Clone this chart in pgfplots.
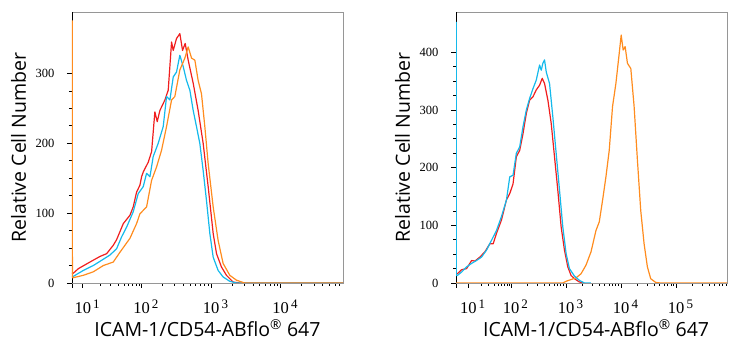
\documentclass[border=0pt]{standalone}
\usepackage{pgfplots}
\pgfplotsset{compat=1.18}
\usepackage{fontspec}
\setmainfont{Open Sans}
\newfontfamily\tickfont{Liberation Serif}
\definecolor{cred}{RGB}{240,30,30}
\definecolor{ccyan}{RGB}{20,185,235}
\definecolor{corange}{RGB}{255,140,30}
\definecolor{frame}{RGB}{150,150,150}
\pgfplotsset{
  flowaxis/.style={
    scale only axis, width=271pt, height=271pt,
    axis line style={frame, line width=0.7pt},
    tick align=outside, tick style={black, line width=0.7pt},
    major tick length=5pt, minor tick length=3pt,
    xtick pos=bottom, ytick pos=left,
    ymin=0, minor y tick num=3,
    /pgf/number format/assume math mode=true,
    yticklabel style={font=\tickfont\fontsize{12.5}{12.5}\selectfont, xshift=-9pt},
    xticklabel style={font=\tickfont\fontsize{16.5}{16.5}\selectfont, yshift=-8pt},
    label style={font=\fontsize{19.5}{19.5}\selectfont},
    ylabel style={at={(axis description cs:-0.197,0.5)}, anchor=center, rotate=0},
    xlabel style={at={(axis description cs:0.5,-0.199)}, anchor=base},
    ylabel={Relative Cell Number},
    xlabel={ICAM-1/CD54-ABflo\textsuperscript{®} 647},
    every axis plot/.append style={line width=1.2pt, line join=round, no marks},
  }
}
\newcommand{\dec}[1]{10\rlap{\raisebox{0.75ex}{\fontsize{13}{13}\selectfont\,#1}}}
\begin{document}
\begin{tikzpicture}[x=1pt,y=1pt]
\useasboundingbox (0,0) rectangle (740,350);
% ---------------- left panel ----------------
\begin{axis}[flowaxis, at={(72pt,67pt)}, anchor=south west,
  xmin=1.0, xmax=4.895, ymax=388,
  ytick={0,100,200,300},
  xtick={1.0,1.155,2,3,4},
  xticklabels={{},\dec{1},\dec{2},\dec{3},\dec{4}},
  minor xtick={1.409,1.558,1.664,1.746,1.812,1.869,1.918,1.961,
    2.301,2.477,2.602,2.699,2.778,2.845,2.903,2.954,
    3.301,3.477,3.602,3.699,3.778,3.845,3.903,3.954,
    4.301,4.477,4.602,4.699,4.778,4.845},
]
\draw[black, line width=0.8pt] (rel axis cs:0,-0.025) -- (rel axis cs:0,1);
\draw[black, line width=0.8pt] (rel axis cs:-0.012,0) -- (rel axis cs:1,0);
\addplot[cred] coordinates {
(1.000,14)(1.019,14)(1.091,20.5)(1.258,30)(1.402,38)(1.498,42)(1.593,54)(1.641,62)
(1.737,85)(1.833,97)(1.880,109)(1.928,130)(1.976,140)(2.000,152)(2.024,159)(2.096,173)
(2.144,188)(2.191,245)(2.225,231)(2.263,247)(2.335,262)(2.383,276)(2.431,345)(2.455,333)
(2.502,350)(2.550,357)(2.589,333)(2.627,343)(2.670,319)(2.742,286)(2.813,247)(2.885,200)
(2.957,138)(3.029,71)(3.077,42)(3.148,23)(3.220,11)(3.316,1.4)(3.411,0)(4.895,0)};
\addplot[ccyan] coordinates {
(1.000,9.5)(1.019,9.5)(1.163,18)(1.306,25)(1.402,31)(1.545,40)(1.641,49)(1.713,66)
(1.785,80)(1.880,102)(1.952,128)(2.024,138)(2.072,157)(2.120,152)(2.167,181)(2.239,200)
(2.311,224)(2.359,267)(2.407,262)(2.455,295)(2.502,302)(2.550,326)(2.598,310)(2.646,290)
(2.694,276)(2.742,247)(2.789,224)(2.837,200)(2.885,161)(2.933,118)(2.981,71)(3.029,37)
(3.100,18)(3.172,8.6)(3.268,2.4)(3.364,0)(4.895,0)};
\addplot[corange] coordinates {
(1.003,376)(1.006,7.6)(1.019,7.6)(1.163,11)(1.306,16)(1.450,25)(1.593,30)(1.689,44)
(1.833,64)(1.928,85)(1.976,99)(2.072,109)(2.144,147)(2.215,166)(2.287,190)(2.359,224)
(2.431,262)(2.478,267)(2.550,305)(2.622,322)(2.670,338)(2.718,322)(2.766,319)(2.813,290)
(2.861,271)(2.909,224)(2.957,171)(3.029,109)(3.100,61)(3.172,28)(3.268,11)(3.364,4)
(3.483,0)(4.895,0)};
\end{axis}
% ---------------- right panel ----------------
\begin{axis}[flowaxis, at={(456pt,67pt)}, anchor=south west,
  xmin=1.0, xmax=5.922, ymax=470,
  ytick={0,100,200,300,400},
  xtick={1.0,1.223,2,3,4,5},
  xticklabels={{},\dec{1},\dec{2},\dec{3},\dec{4},\dec{5}},
  minor xtick={1.457,1.594,1.691,1.766,1.828,1.880,1.925,1.964,
    2.301,2.477,2.602,2.699,2.778,2.845,2.903,2.954,
    3.301,3.477,3.602,3.699,3.778,3.845,3.903,3.954,
    4.301,4.477,4.602,4.699,4.778,4.845,4.903,4.954,
    5.301,5.477,5.602,5.699,5.778,5.845,5.903},
  xlabel style={at={(axis description cs:0.517,-0.199)}},
]
\draw[black, line width=0.8pt] (rel axis cs:0,-0.025) -- (rel axis cs:0,1);
\draw[black, line width=0.8pt] (rel axis cs:-0.012,0) -- (rel axis cs:1,0);
\addplot[cred] coordinates {
(1.000,16)(1.024,16)(1.102,23)(1.193,25)(1.283,39)(1.343,38)(1.434,45)(1.524,54)
(1.614,68)(1.675,68)(1.735,86)(1.825,109)(1.916,144)(1.976,155)(2.036,172)(2.096,219)
(2.157,230)(2.217,259)(2.277,294)(2.337,317)(2.398,323)(2.458,335)(2.518,343)(2.566,355)
(2.608,346)(2.669,317)(2.729,277)(2.789,219)(2.849,161)(2.910,97)(2.970,57)(3.030,28)
(3.090,13)(3.151,7.5)(3.241,1.7)(3.331,0)};
\addplot[corange] coordinates {
(1.000,0)(2.940,0)(3.000,3)(3.090,6)(3.181,9)(3.271,16)(3.361,31)(3.452,54)(3.542,91)
(3.602,106)(3.663,144)(3.723,184)(3.783,230)(3.843,306)(3.904,346)(3.964,398)(4.000,430)
(4.036,404)(4.072,410)(4.114,381)(4.175,372)(4.235,306)(4.295,213)(4.355,126)(4.416,68)
(4.476,28)(4.536,7.5)(4.627,1)(4.717,0)(5.922,0)};
\addplot[ccyan] coordinates {
(1.003,453)(1.006,13)(1.024,13)(1.102,19)(1.193,28)(1.283,34)(1.373,39)(1.464,45)
(1.554,57)(1.645,74)(1.735,91)(1.825,115)(1.916,144)(1.976,184)(2.036,187)(2.096,225)
(2.157,236)(2.217,271)(2.277,300)(2.337,320)(2.398,337)(2.458,352)(2.518,378)(2.548,369)
(2.578,381)(2.608,387)(2.639,366)(2.699,346)(2.759,288)(2.819,225)(2.880,161)(2.940,97)
(3.000,51)(3.060,25)(3.151,12)(3.241,4.6)(3.331,0)(3.45,0)};
\end{axis}
\end{tikzpicture}
\end{document}
